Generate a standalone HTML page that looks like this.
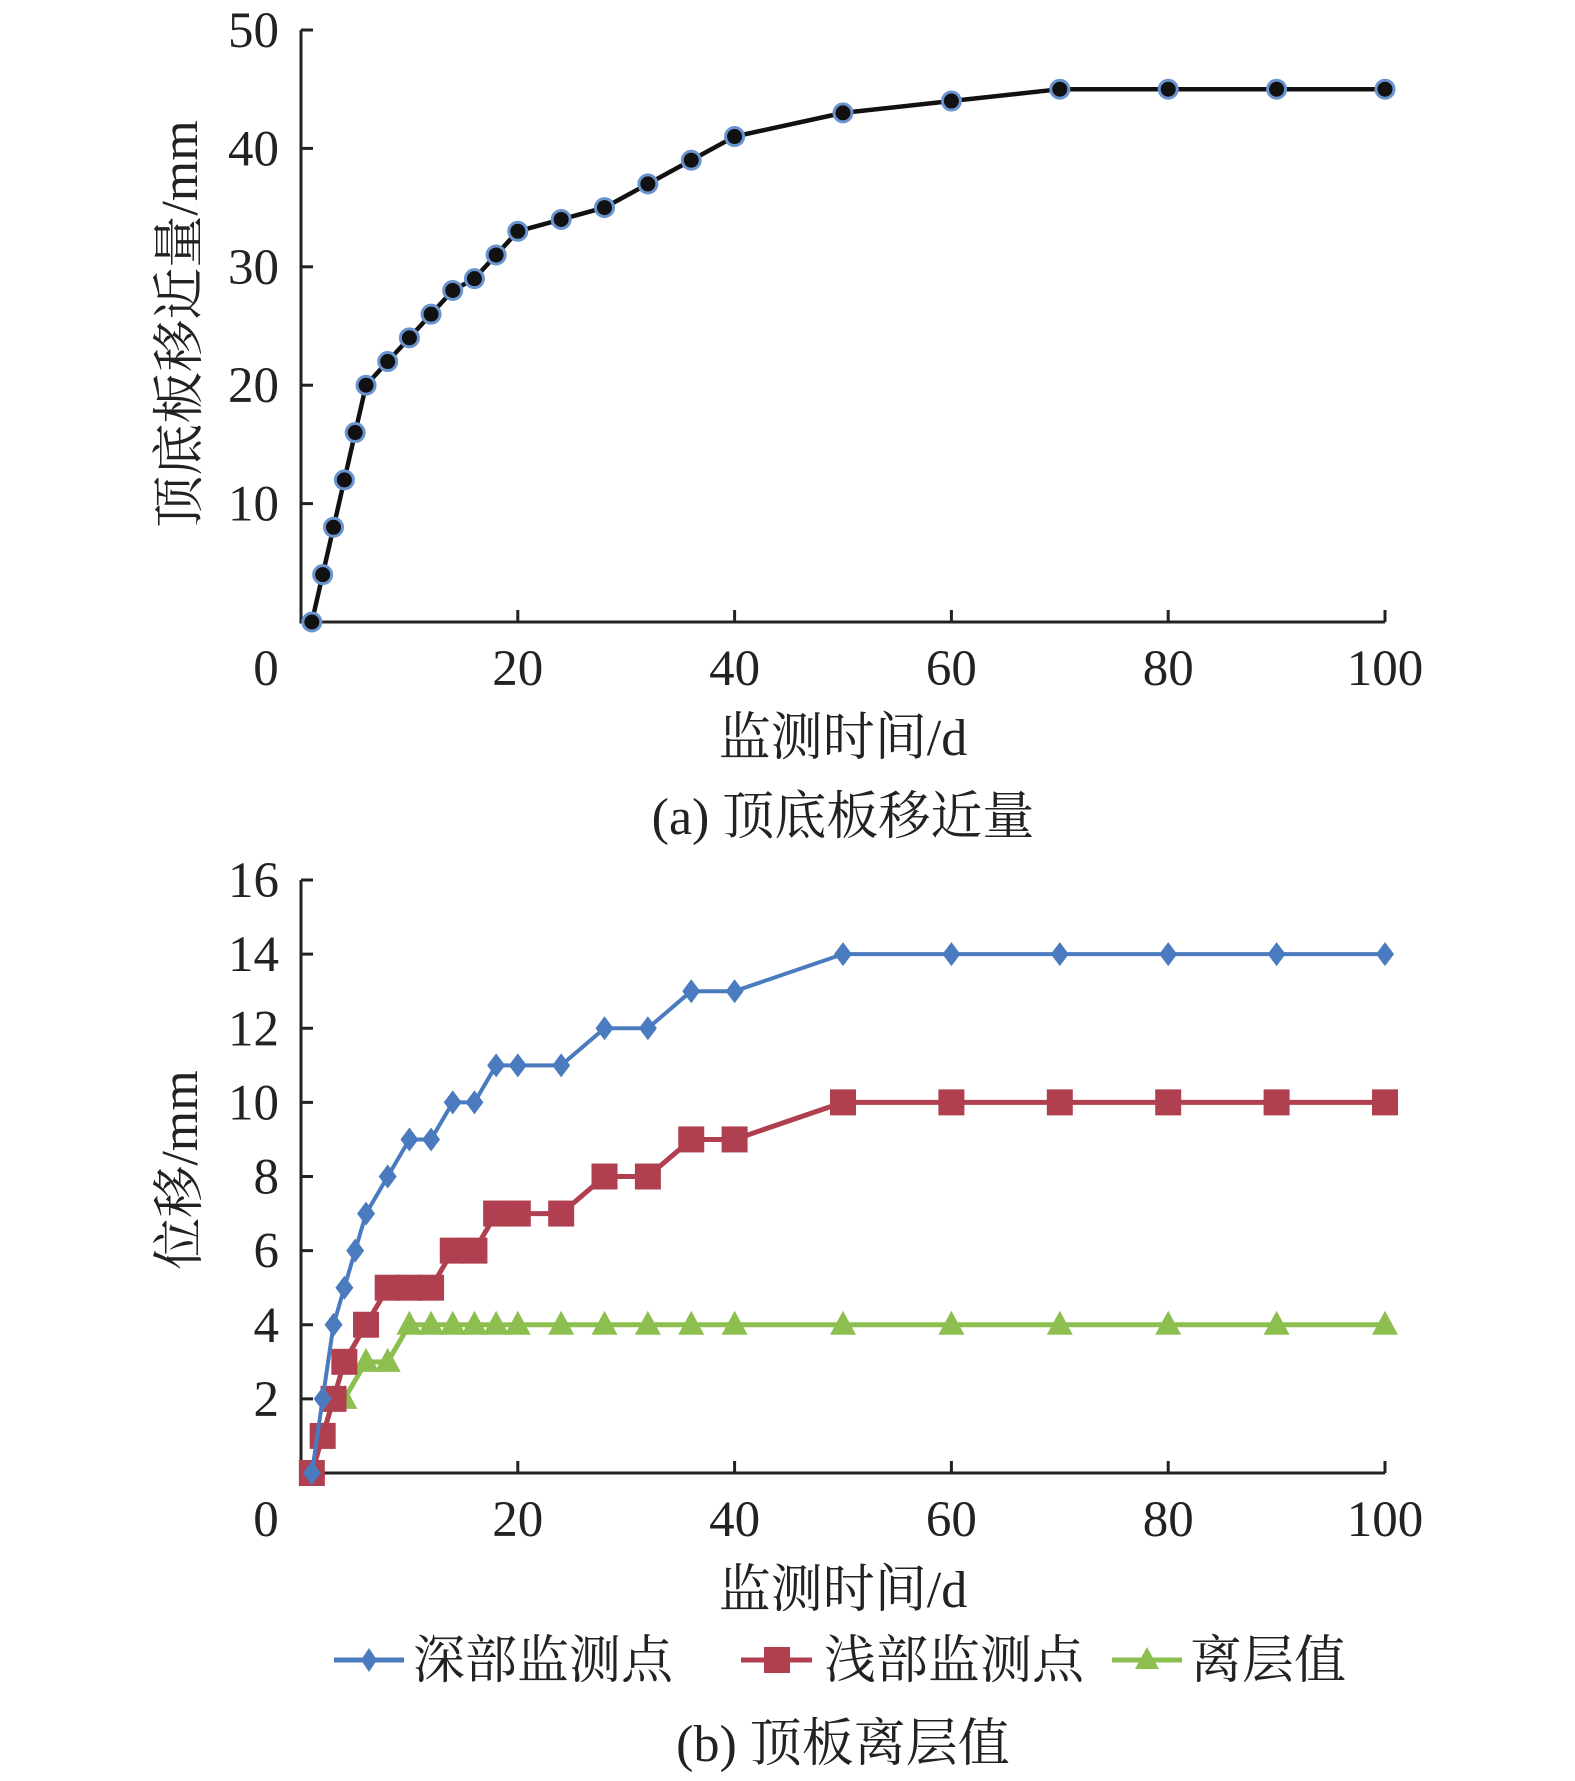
<!DOCTYPE html>
<html><head><meta charset="utf-8"><style>
body{margin:0;background:#fff}
svg{display:block}
text{font-family:"Liberation Serif","Noto Serif CJK SC",serif;fill:#222}
</style></head><body>
<svg id="svg" width="1575" height="1781" viewBox="0 0 1575 1781" xmlns="http://www.w3.org/2000/svg">
<g id="gtop"></g>
<g id="gbot"></g>
<text x="843" y="755" font-size="52" text-anchor="middle">监测时间/d</text>
<text x="843" y="834" font-size="52" text-anchor="middle">(a) 顶底板移近量</text>
<text transform="translate(197,324) rotate(-90)" font-size="52" text-anchor="middle">顶底板移近量/mm</text>
<text x="843" y="1607" font-size="52" text-anchor="middle">监测时间/d</text>
<text transform="translate(197,1170) rotate(-90)" font-size="52" text-anchor="middle">位移/mm</text>
<text x="843" y="1761" font-size="52" text-anchor="middle">(b) 顶板离层值</text>
<g>
 <line x1="334" y1="1660" x2="404" y2="1660" stroke="#4a7bbf" stroke-width="5"/>
 <path d="M369 1648 L377 1660 L369 1672 L361 1660Z" fill="#4a7bbf"/>
 <text x="413" y="1678" font-size="52">深部监测点</text>
 <line x1="741" y1="1660" x2="812" y2="1660" stroke="#b0404f" stroke-width="5"/>
 <rect x="764" y="1647" width="26" height="26" fill="#b0404f"/>
 <text x="824" y="1678" font-size="52">浅部监测点</text>
 <line x1="1112" y1="1660" x2="1182" y2="1660" stroke="#8cbf4f" stroke-width="5"/>
 <path d="M1147 1647 L1159 1669 L1135 1669Z" fill="#8cbf4f"/>
 <text x="1190" y="1678" font-size="52">离层值</text>
</g>
</svg>
<script>
const xTicks=[0,20,40,60,80,100];
const topYTicks=[10,20,30,40,50];
const botYTicks=[2,4,6,8,10,12,14,16];
const topX=[1,2,3,4,5,6,8,10,12,14,16,18,20,24,28,32,36,40,50,60,70,80,90,100];
const topY=[0,4,8,12,16,20,22,24,26,28,29,31,33,34,35,37,39,41,43,44,45,45,45,45];
const deepX=[1,2,3,4,5,6,8,10,12,14,16,18,20,24,28,32,36,40,50,60,70,80,90,100];
const deepY=[0,2,4,5,6,7,8,9,9,10,10,11,11,11,12,12,13,13,14,14,14,14,14,14];
const shalX=[1,2,3,4,6,8,10,12,14,16,18,20,24,28,32,36,40,50,60,70,80,90,100];
const shalY=[0,1,2,3,4,5,5,5,6,6,7,7,7,8,8,9,9,10,10,10,10,10,10];
const sepX=[1,2,3,4,6,8,10,12,14,16,18,20,24,28,32,36,40,50,60,70,80,90,100];
const sepY=[0,1,2,2,3,3,4,4,4,4,4,4,4,4,4,4,4,4,4,4,4,4,4];
const NS="http://www.w3.org/2000/svg";
const X0=301,X1=1385;
const sx=v=>X0+(X1-X0)*v/100;
function mk(tag,attrs,parent){const e=document.createElementNS(NS,tag);for(const k in attrs)e.setAttribute(k,attrs[k]);parent.appendChild(e);return e;}
function axes(g,yb,yt,ymax,yticks,id){
  const sy=v=>yb-(yb-yt)*v/ymax;
  const ax=mk('path',{d:`M${X0} ${yt} V${yb} H${X1}`,fill:'none',stroke:'#222','stroke-width':3},g);
  
  
  yticks.forEach(t=>{
    const l=mk('line',{x1:X0,x2:X0+12,y1:sy(t),y2:sy(t),stroke:'#222','stroke-width':3},g);
    
    
    const tx=mk('text',{x:X0-22,y:sy(t)+17,'font-size':51,'text-anchor':'end'},g);
    
    
    tx.textContent=t;
  });
  xTicks.forEach(t=>{
    if(t>0){const l=mk('line',{x1:sx(t),x2:sx(t),y1:yb,y2:yb-12,stroke:'#222','stroke-width':3},g);
    
    }
    const tx=mk('text',{x:t===0?266:sx(t),y:yb+63,'font-size':51,'text-anchor':'middle'},g);
    
    
    tx.textContent=t;
  });
  return sy;
}
function series(g,xs,ys,sy,color,w,name,marker){
  const d=xs.map((x,i)=>(i?'L':'M')+sx(x)+' '+sy(ys[i])).join(' ');
  const p=mk('path',{d,fill:'none',stroke:color,'stroke-width':w,'stroke-linejoin':'round'},g);
  
  
  xs.forEach((x,i)=>{const m=marker(g,sx(x),sy(ys[i]));
    
    });
}
const gTop=document.getElementById('gtop'),gBot=document.getElementById('gbot');
const syT=axes(gTop,622,30,50,topYTicks,'a');
series(gTop,topX,topY,syT,'#111',4.5,'convergence',(g,x,y)=>mk('circle',{cx:x,cy:y,r:9,fill:'#111',stroke:'#6a94cf','stroke-width':3},g));
const syB=axes(gBot,1473,880,16,botYTicks,'b');
series(gBot,sepX,sepY,syB,'#8cbf4f',5,'separation',(g,x,y)=>mk('path',{d:`M${x} ${y-14} L${x+13} ${y+10} L${x-13} ${y+10}Z`,fill:'#8cbf4f'},g));
series(gBot,shalX,shalY,syB,'#b0404f',5,'shallow',(g,x,y)=>mk('rect',{x:x-13,y:y-13,width:26,height:26,fill:'#b0404f'},g));
series(gBot,deepX,deepY,syB,'#4a7bbf',4,'deep',(g,x,y)=>mk('path',{d:`M${x} ${y-12} L${x+9} ${y} L${x} ${y+12} L${x-9} ${y}Z`,fill:'#4a7bbf'},g));
</script>
</body></html>
